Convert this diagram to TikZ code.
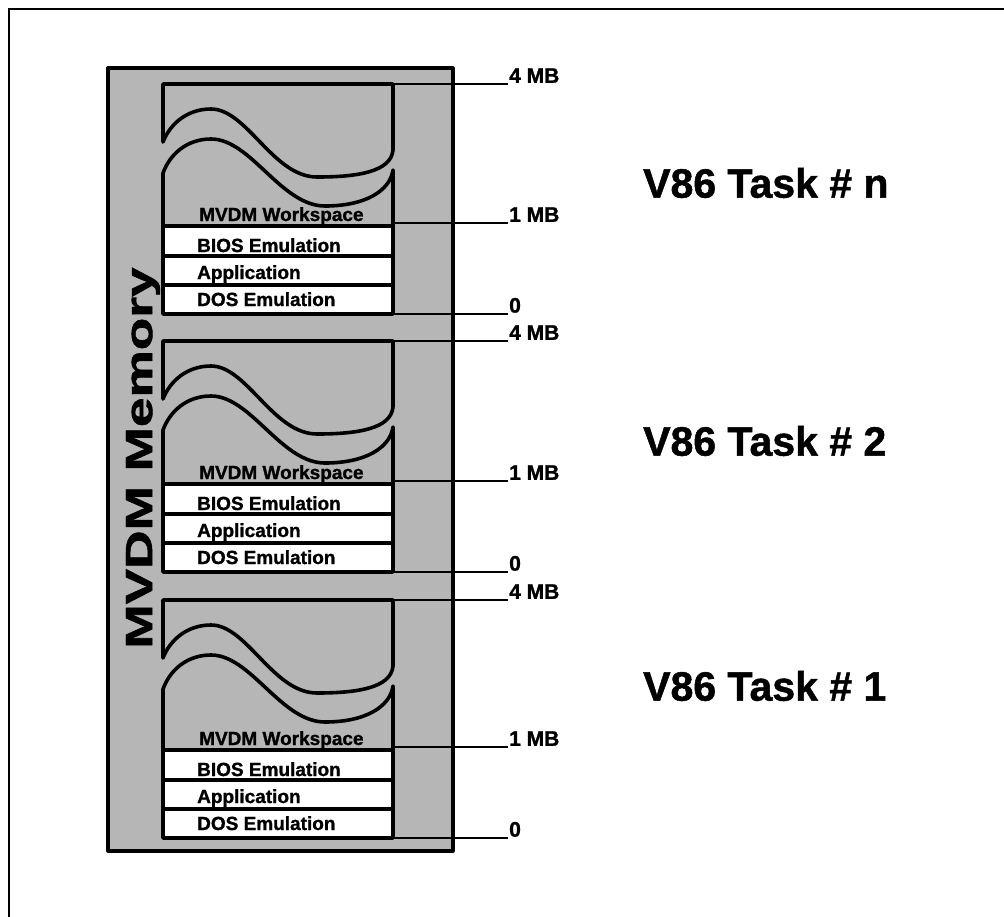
\documentclass[tikz,border=0pt]{standalone}
\usepackage{fontspec}
\setmainfont{Liberation Sans}[BoldFeatures={FakeBold=1.2}]
\definecolor{halftone}{RGB}{182,182,182}
\tikzset{
  outline/.style={line width=3.6pt, line join=round},
  framestroke/.style={line width=2.6pt},
  tickline/.style={line width=1.3pt},
  layertext/.style={font=\bfseries\fontsize{19}{20}\selectfont, anchor=base west, inner sep=0pt},
  sizelabel/.style={font=\bfseries\fontsize{21}{21}\selectfont, anchor=south west, inner sep=1pt},
  tasklabel/.style={font=\bfseries\fontsize{41}{41}\selectfont, anchor=west, inner sep=0pt},
}
% #1 name, #2 top, #3 bottom, #4 task text, #5 task label y
\newcommand\taskblock[5]{%
  \begin{scope}[shift={(163,#2)}]
    \pgfmathsetmacro\H{#3-#2}
    % upper piece
    \draw[outline] (0,58) -- (0,0) -- (230,0) -- (230,66)
      .. controls (228,88) and (194,93) .. (154,93)
      .. controls (110,93) and (84,25) .. (48,25)
      .. controls (24,25) and (7,40) .. (0,58) -- cycle;
    % white layers
    \fill[white] (0,\H-88) rectangle (230,\H);
    % lower piece
    \draw[outline] (0,89)
      .. controls (7,70) and (24,55) .. (48,55)
      .. controls (88,55) and (118,122) .. (162,122)
      .. controls (202,122) and (227,107) .. (230,86)
      -- (230,\H) -- (0,\H) -- cycle;
    \draw[outline] (0,\H-88) -- (230,\H-88);
    \draw[outline] (0,\H-58) -- (230,\H-58);
    \draw[outline] (0,\H-29) -- (230,\H-29);
    % layer texts
    \node[layertext] (#1-ws)   at (36,\H-93) {MVDM Workspace};
    \node[layertext] (#1-bios) at (34,\H-62) {BIOS Emulation};
    \node[layertext] (#1-app)  at (34,\H-35) {Application};
    \node[layertext] (#1-dos)  at (34,\H-8)  {DOS Emulation};
    % size marks
    \coordinate (#1-t4) at (230,0);
    \coordinate (#1-t1) at (230,\H-91);
    \coordinate (#1-t0) at (230,\H);
    \node[sizelabel] (#1-l4) at (345,0) {4 MB};
    \node[sizelabel] (#1-l1) at (345,\H-91) {1 MB};
    \node[sizelabel] (#1-l0) at (345,\H) {0};
    \draw[tickline] (#1-t4) -- (#1-l4.south west);
    \draw[tickline] (#1-t1) -- (#1-l1.south west);
    \draw[tickline] (#1-t0) -- (#1-l0.south west);
  \end{scope}
  \node[tasklabel] (#1-task) at (643,#5) {#4};
}
\begin{document}
\begin{tikzpicture}[x=1pt,y=-1pt]
  \useasboundingbox (0,0) rectangle (1004,916);
  \fill[white] (-6,-6) rectangle (1012,924);
  % outer frame (top and left edges)
  \draw[framestroke] (9,924) -- (9,9) -- (1012,9);
  % memory column
  \draw[outline, line width=3.2pt, fill=halftone] (108,68) rectangle (453,851);
  \node[rotate=90, font=\bfseries\fontsize{38}{38}\selectfont, inner sep=0pt] (memlabel) at (143,458)
    {\scalebox{1.4}[1]{MVDM Memory}};
  \taskblock{tn}{84}{314}{V86 Task \# n}{183}
  \taskblock{t2}{341}{572}{V86 Task \# 2}{441}
  \taskblock{t1}{600}{838}{V86 Task \# 1}{686}
\end{tikzpicture}
\end{document}
